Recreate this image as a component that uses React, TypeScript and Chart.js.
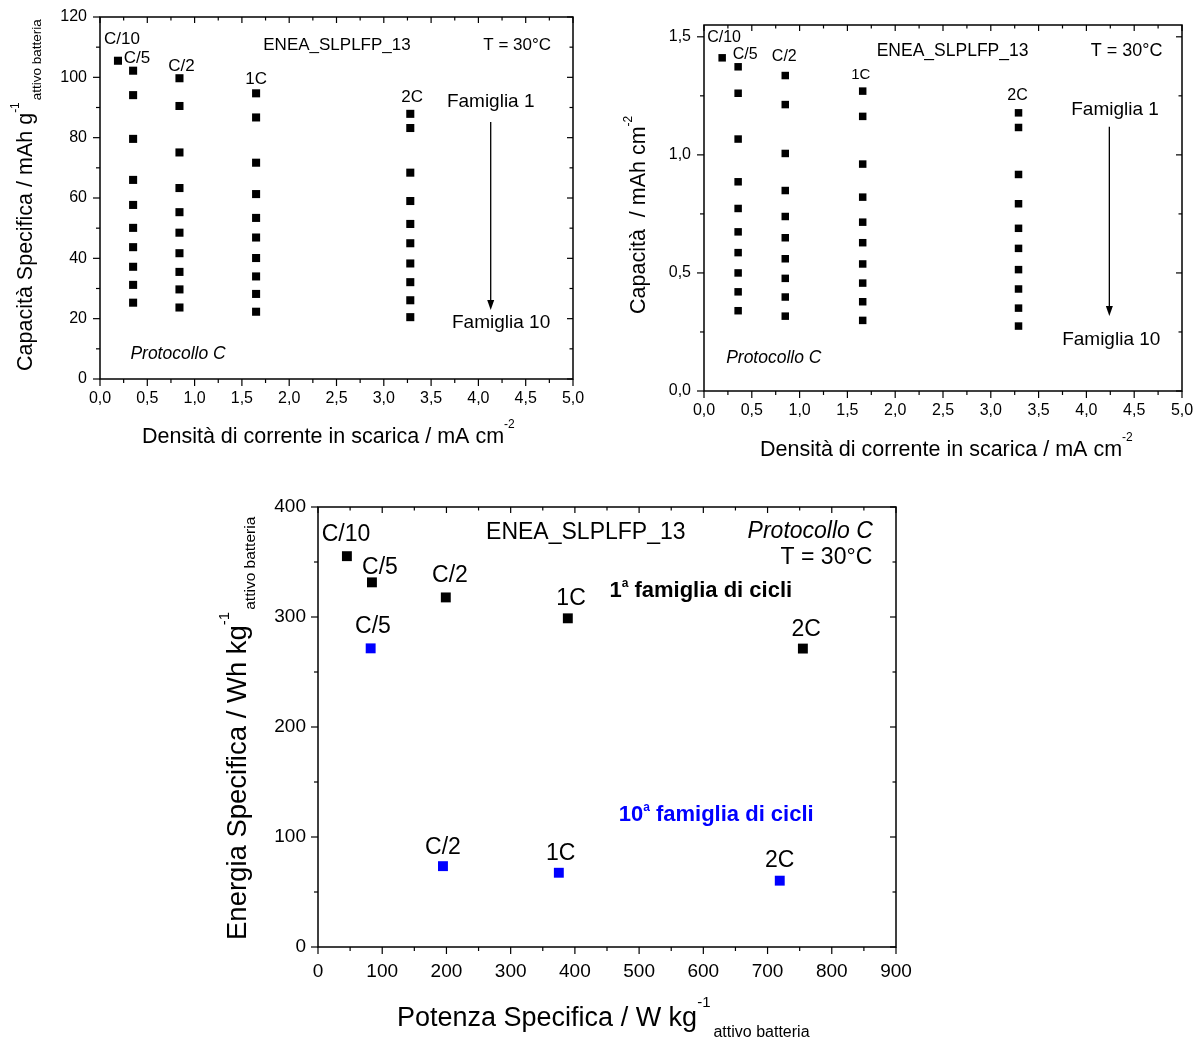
import React, { useEffect, useRef } from 'react';
import { Chart, registerables } from 'chart.js';

Chart.register(...registerables);

const FONT = '"Liberation Sans", Arial, Helvetica, sans-serif';

// ---------------- DATA: chart 1 (capacità specifica, mAh g-1) ----------------
const rates = ['C/10', 'C/5', 'C/2', '1C', '2C'];
const current1 = [0.19, 0.35, 0.84, 1.65, 3.28];
const spec_C10 = [105.5];
const spec_C5 = [102.2, 94.1, 79.6, 66.0, 57.7, 50.1, 43.7, 37.2, 31.2, 25.3];
const spec_C2 = [99.7, 90.5, 75.1, 63.3, 55.3, 48.5, 41.7, 35.5, 29.7, 23.7];
const spec_1C = [94.7, 86.7, 71.7, 61.3, 53.4, 46.9, 40.1, 34.0, 28.2, 22.3];
const spec_2C = [87.9, 83.2, 68.4, 59.0, 51.4, 45.0, 38.3, 32.1, 26.1, 20.5];

// ---------------- DATA: chart 2 (capacità areale, mAh cm-2) ----------------
const current2 = [0.19, 0.357, 0.85, 1.66, 3.29];
const areal_C10 = [1.411];
const areal_C5 = [1.373, 1.261, 1.067, 0.886, 0.773, 0.674, 0.586, 0.5, 0.42, 0.34];
const areal_C2 = [1.336, 1.213, 1.006, 0.849, 0.739, 0.649, 0.56, 0.477, 0.398, 0.317];
const areal_1C = [1.27, 1.163, 0.961, 0.821, 0.715, 0.628, 0.538, 0.457, 0.378, 0.299];
const areal_2C = [1.178, 1.116, 0.917, 0.793, 0.689, 0.604, 0.514, 0.432, 0.351, 0.275];

// ---------------- DATA: chart 3 (Ragone) ----------------
const ragone1_rates = ['C/10', 'C/5', 'C/2', '1C', '2C'];
const ragone1_power = [45, 84, 199, 389, 755];
const ragone1_energy = [355.3, 331.5, 317.8, 298.8, 271.3];
const ragone10_rates = ['C/5', 'C/2', '1C', '2C'];
const ragone10_power = [82, 194.6, 375, 719];
const ragone10_energy = [271.5, 73.5, 67.5, 60.3];

// ---------------- helpers ----------------
type Part = { t: string; size: number; dy?: number; style?: string; weight?: string; pre?: number };
type Note = { parts: Part[]; x: number; y: number; align?: 'left' | 'center' | 'right'; color?: string };
type Title = { parts: Part[]; x: number; y: number; rot?: number };
type Decor = {
  xMajor: number; xMinor: number; yMajor: number; yMinor: number;
  notes: Note[]; titles: Title[]; arrow?: { x: number; y1: number; y2: number };
};

const fontOf = (p: Part) => `${p.style || 'normal'} ${p.weight || 'normal'} ${p.size}px ${FONT}`;

function drawRich(ctx: CanvasRenderingContext2D, parts: Part[], x: number, y: number, rot: number, align: string, color: string) {
  ctx.save();
  ctx.translate(x, y);
  if (rot) ctx.rotate(rot);
  ctx.textBaseline = 'alphabetic';
  ctx.textAlign = 'left';
  ctx.fillStyle = color;
  const widths = parts.map((p) => { ctx.font = fontOf(p); return ctx.measureText(p.t).width + (p.pre || 0); });
  const total = widths.reduce((a, b) => a + b, 0);
  let cx = align === 'center' ? -total / 2 : align === 'right' ? -total : 0;
  parts.forEach((p, i) => {
    ctx.font = fontOf(p);
    ctx.fillText(p.t, cx + (p.pre || 0), p.dy || 0);
    cx += widths[i];
  });
  ctx.restore();
}

function isMult(v: number, step: number) {
  const r = v / step;
  return Math.abs(r - Math.round(r)) < 1e-6;
}

function makeDecor(d: Decor) {
  return {
    id: 'decor',
    afterDraw(chart: any) {
      const ctx: CanvasRenderingContext2D = chart.ctx;
      const a = chart.chartArea;
      const xs = chart.scales.x;
      const ys = chart.scales.y;
      ctx.save();
      ctx.strokeStyle = '#000';
      ctx.lineWidth = 1.2;
      const line = (x1: number, y1: number, x2: number, y2: number) => {
        ctx.beginPath(); ctx.moveTo(x1, y1); ctx.lineTo(x2, y2); ctx.stroke();
      };
      const nx = Math.floor((xs.max - xs.min) / d.xMinor + 1e-6);
      for (let i = 0; i <= nx; i++) {
        const v = xs.min + i * d.xMinor;
        const maj = isMult(v, d.xMajor);
        const p = xs.getPixelForValue(v);
        line(p, a.bottom, p, a.bottom + (maj ? 7 : 4));
        line(p, a.top, p, a.top + (maj ? 6 : 3.5));
      }
      const ny = Math.floor((ys.max - ys.min) / d.yMinor + 1e-6);
      for (let i = 0; i <= ny; i++) {
        const v = ys.min + i * d.yMinor;
        const maj = isMult(v, d.yMajor);
        const p = ys.getPixelForValue(v);
        line(a.left, p, a.left - (maj ? 7 : 4), p);
        line(a.right, p, a.right - (maj ? 6 : 3.5), p);
      }
      ctx.lineWidth = 1.5;
      ctx.strokeRect(a.left, a.top, a.right - a.left, a.bottom - a.top);

      if (d.arrow) {
        const ax = xs.getPixelForValue(d.arrow.x);
        const y1 = ys.getPixelForValue(d.arrow.y1);
        const y2 = ys.getPixelForValue(d.arrow.y2);
        ctx.lineWidth = 1.3;
        line(ax, y1, ax, y2 - 8);
        ctx.fillStyle = '#000';
        ctx.beginPath();
        ctx.moveTo(ax, y2);
        ctx.lineTo(ax - 3.5, y2 - 10);
        ctx.lineTo(ax + 3.5, y2 - 10);
        ctx.closePath();
        ctx.fill();
      }
      d.notes.forEach((n) => {
        const px = xs.getPixelForValue(n.x);
        const py = ys.getPixelForValue(n.y) + 0.36 * n.parts[0].size;
        drawRich(ctx, n.parts, px, py, 0, n.align || 'center', n.color || '#000');
      });
      d.titles.forEach((t) => drawRich(ctx, t.parts, t.x, t.y, t.rot || 0, 'left', '#000'));
      ctx.restore();
    },
  };
}

const comma1 = (v: any) => Number(v).toFixed(1).replace('.', ',');

function scaleOpts(min: number, max: number, step: number, fit: number, horiz: boolean, size: number, pad: number, fmt?: (v: any) => string) {
  return {
    type: 'linear',
    min, max,
    grid: { display: false, drawTicks: false },
    border: { display: false },
    afterFit: (s: any) => {
      if (horiz) s.height = fit; else s.width = fit;
      s.paddingLeft = 0; s.paddingRight = 0; s.paddingTop = 0; s.paddingBottom = 0;
    },
    afterBuildTicks: (s: any) => { s.ticks = s.ticks.filter((t: any) => isMult(t.value, step)); },
    ticks: {
      stepSize: step,
      includeBounds: false,
      autoSkip: false,
      maxRotation: 0,
      minRotation: 0,
      padding: pad,
      color: '#000',
      font: { family: FONT, size },
      callback: fmt || ((v: any) => String(v)),
    },
  };
}

const sq = (color: string, r: number) => ({
  type: 'scatter',
  showLine: false,
  pointStyle: 'rect',
  pointRadius: r,
  pointHoverRadius: r,
  backgroundColor: color,
  borderColor: color,
  borderWidth: 0,
});

const txt = (t: string, size: number, extra: Partial<Part> = {}): Part[] => [{ t, size, ...extra }];

// ---------------- chart 1 ----------------
function config1(): any {
  const cols = [spec_C10, spec_C5, spec_C2, spec_1C, spec_2C];
  const datasets = cols.map((vals, i) => ({
    label: rates[i],
    ...sq('#000', 5.7),
    data: vals.map((v) => ({ x: current1[i], y: v })),
  }));
  const decor: Decor = {
    xMajor: 0.5, xMinor: 0.25, yMajor: 20, yMinor: 10,
    arrow: { x: 4.13, y1: 85.2, y2: 22.9 },
    notes: [
      { parts: txt(rates[0], 17), x: 0.233, y: 113.1 },
      { parts: txt(rates[1], 17), x: 0.39, y: 106.8 },
      { parts: txt(rates[2], 17), x: 0.86, y: 104.1 },
      { parts: txt(rates[3], 17), x: 1.65, y: 99.8 },
      { parts: txt(rates[4], 17), x: 3.3, y: 93.9 },
      { parts: txt('ENEA_SLPLFP_13', 17), x: 2.505, y: 111.1 },
      { parts: txt('T = 30°C', 17), x: 4.41, y: 111.1 },
      { parts: txt('Famiglia 1', 19), x: 4.13, y: 92.5 },
      { parts: txt('Famiglia 10', 19), x: 4.24, y: 19.2 },
      { parts: txt('Protocollo C', 17.5, { style: 'italic' }), x: 0.825, y: 8.6 },
    ],
    titles: [
      {
        x: 32, y: 371, rot: -Math.PI / 2,
        parts: [
          { t: 'Capacità Specifica / mAh g', size: 21.5 },
          { t: '-1', size: 12, dy: -13 },
          { t: 'attivo batteria', size: 13.5, dy: 9, pre: 2 },
        ],
      },
      {
        x: 142, y: 443,
        parts: [
          { t: 'Densità di corrente in scarica / mA cm', size: 21.5 },
          { t: '-2', size: 12, dy: -15 },
        ],
      },
    ],
  };
  return {
    type: 'scatter',
    data: { datasets },
    options: {
      animation: false, responsive: false, events: [],
      layout: { padding: { left: 0, top: 17, right: 27, bottom: 0 } },
      plugins: { legend: { display: false }, tooltip: { enabled: false } },
      scales: {
        x: scaleOpts(0, 5, 0.5, 81, true, 16, 10, comma1),
        y: scaleOpts(0, 120, 20, 100, false, 16, 13),
      },
    },
    plugins: [makeDecor(decor)],
  };
}

// ---------------- chart 2 ----------------
function config2(): any {
  const cols = [areal_C10, areal_C5, areal_C2, areal_1C, areal_2C];
  const datasets = cols.map((vals, i) => ({
    label: rates[i],
    ...sq('#000', 5.3),
    data: vals.map((v) => ({ x: current2[i], y: v })),
  }));
  const decor: Decor = {
    xMajor: 0.5, xMinor: 0.25, yMajor: 0.5, yMinor: 0.25,
    arrow: { x: 4.24, y1: 1.119, y2: 0.318 },
    notes: [
      { parts: txt(rates[0], 16), x: 0.21, y: 1.504 },
      { parts: txt(rates[1], 16), x: 0.43, y: 1.432 },
      { parts: txt(rates[2], 16), x: 0.84, y: 1.42 },
      { parts: txt(rates[3], 15), x: 1.64, y: 1.343 },
      { parts: txt(rates[4], 16), x: 3.28, y: 1.258 },
      { parts: txt('ENEA_SLPLFP_13', 17.5), x: 2.6, y: 1.445 },
      { parts: txt('T = 30°C', 18), x: 4.42, y: 1.445 },
      { parts: txt('Famiglia 1', 19), x: 4.3, y: 1.199 },
      { parts: txt('Famiglia 10', 19), x: 4.26, y: 0.225 },
      { parts: txt('Protocollo C', 17.5, { style: 'italic' }), x: 0.73, y: 0.144 },
    ],
    titles: [
      {
        x: 45, y: 314, rot: -Math.PI / 2,
        parts: [
          { t: 'Capacità  / mAh cm', size: 21.5 },
          { t: '-2', size: 12, dy: -13 },
        ],
      },
      {
        x: 160, y: 456,
        parts: [
          { t: 'Densità di corrente in scarica / mA cm', size: 21.5 },
          { t: '-2', size: 12, dy: -15 },
        ],
      },
    ],
  };
  return {
    type: 'scatter',
    data: { datasets },
    options: {
      animation: false, responsive: false, events: [],
      layout: { padding: { left: 0, top: 25, right: 14, bottom: 0 } },
      plugins: { legend: { display: false }, tooltip: { enabled: false } },
      scales: {
        x: scaleOpts(0, 5, 0.5, 79, true, 16, 10, comma1),
        y: scaleOpts(0, 1.55, 0.5, 104, false, 16, 13, comma1),
      },
    },
    plugins: [makeDecor(decor)],
  };
}

// ---------------- chart 3 ----------------
function config3(): any {
  const datasets = [
    {
      label: '1a famiglia di cicli',
      ...sq('#000', 7),
      data: ragone1_power.map((p, i) => ({ x: p, y: ragone1_energy[i] })),
    },
    {
      label: '10a famiglia di cicli',
      ...sq('#0000FF', 7),
      data: ragone10_power.map((p, i) => ({ x: p, y: ragone10_energy[i] })),
    },
  ];
  const decor: Decor = {
    xMajor: 100, xMinor: 50, yMajor: 100, yMinor: 50,
    notes: [
      { parts: txt(ragone1_rates[0], 23), x: 43.6, y: 376.4 },
      { parts: txt(ragone1_rates[1], 23), x: 96.5, y: 347 },
      { parts: txt(ragone1_rates[2], 23), x: 205.5, y: 339 },
      { parts: txt(ragone1_rates[3], 23), x: 394, y: 318 },
      { parts: txt(ragone1_rates[4], 23), x: 760, y: 290 },
      { parts: txt(ragone10_rates[0], 23), x: 85.6, y: 292.7 },
      { parts: txt(ragone10_rates[1], 23), x: 194.6, y: 91.8 },
      { parts: txt(ragone10_rates[2], 23), x: 378, y: 86.4 },
      { parts: txt(ragone10_rates[3], 23), x: 719, y: 80 },
      { parts: txt('ENEA_SLPLFP_13', 23), x: 417, y: 378 },
      { parts: txt('Protocollo C', 23, { style: 'italic' }), x: 864, y: 379, align: 'right' },
      { parts: txt('T = 30°C', 23), x: 863, y: 355.5, align: 'right' },
      {
        x: 596, y: 325,
        parts: [
          { t: '1', size: 22, weight: 'bold' },
          { t: 'a', size: 12, weight: 'bold', dy: -10 },
          { t: ' famiglia di cicli', size: 22, weight: 'bold' },
        ],
      },
      {
        x: 620, y: 121.8, color: '#0000FF',
        parts: [
          { t: '10', size: 22, weight: 'bold' },
          { t: 'a', size: 12, weight: 'bold', dy: -10 },
          { t: ' famiglia di cicli', size: 22, weight: 'bold' },
        ],
      },
    ],
    titles: [
      {
        x: 46, y: 450, rot: -Math.PI / 2,
        parts: [
          { t: 'Energia Specifica / Wh kg', size: 27.5 },
          { t: '-1', size: 15, dy: -17 },
          { t: 'attivo batteria', size: 15.5, dy: 9, pre: 2 },
        ],
      },
      {
        x: 197, y: 536,
        parts: [
          { t: 'Potenza Specifica / W kg', size: 27 },
          { t: '-1', size: 15, dy: -19 },
          { t: 'attivo batteria', size: 16, dy: 11, pre: 3 },
        ],
      },
    ],
  };
  return {
    type: 'scatter',
    data: { datasets },
    options: {
      animation: false, responsive: false, events: [],
      layout: { padding: { left: 0, top: 17, right: 24, bottom: 0 } },
      plugins: { legend: { display: false }, tooltip: { enabled: false } },
      scales: {
        x: scaleOpts(0, 900, 100, 93, true, 19, 13),
        y: scaleOpts(0, 400, 100, 118, false, 19, 12),
      },
    },
    plugins: [makeDecor(decor)],
  };
}

function ChartBox(props: { left: number; top: number; width: number; height: number; make: () => any }) {
  const ref = useRef<HTMLCanvasElement | null>(null);
  useEffect(() => {
    if (!ref.current) return;
    const chart = new Chart(ref.current, props.make());
    return () => chart.destroy();
  }, []);
  return (
    <canvas
      ref={ref}
      width={props.width}
      height={props.height}
      style={{ position: 'absolute', left: props.left, top: props.top, width: props.width, height: props.height }}
    />
  );
}

export default function App() {
  return (
    <div style={{ position: 'absolute', left: 0, top: 0, width: 1196, height: 1040, background: '#fff', overflow: 'hidden' }}>
      <ChartBox left={0} top={0} width={600} height={460} make={config1} />
      <ChartBox left={600} top={0} width={596} height={470} make={config2} />
      <ChartBox left={200} top={490} width={720} height={550} make={config3} />
    </div>
  );
}
